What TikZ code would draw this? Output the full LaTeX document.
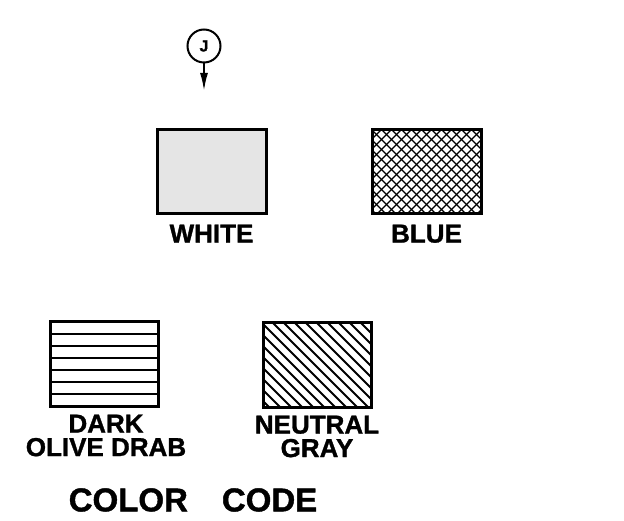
\documentclass[tikz,border=0pt]{standalone}
\usepackage{fontspec}
\setmainfont{Liberation Sans}[BoldFeatures={FakeBold=1.2}]
\usetikzlibrary{calc,positioning,arrows.meta}
\tikzset{
  swatch/.style={
    draw=black,
    line width=3pt,
    minimum width=109pt,
    minimum height=84pt,
    inner sep=0pt
  },
  hatchline/.style={line width=1.6pt},
  hatchrows/.style={path picture={
    \foreach \k in {1,...,6} {
      \draw[hatchline] ($(path picture bounding box.north west)+(-5,\k*12)$) -- ++(130,0);
    }}},
  hatchdiag/.style={path picture={
    \foreach \k in {-100,-89,...,120} {
      \draw[hatchline, line width=1.8pt] ($(path picture bounding box.north west)+(\k,0)$) -- ++(100,100);
    }}},
  hatchcross/.style={path picture={
    \foreach \k in {-110,-100,...,120} {
      \draw[hatchline, line width=1.3pt] ($(path picture bounding box.north west)+(\k,0)$) -- ++(100,100);
      \draw[hatchline, line width=1.3pt] ($(path picture bounding box.north east)+(-\k,0)$) -- ++(-100,100);
    }}},
  lbl/.style={font=\fontsize{26}{23.5}\selectfont\bfseries, inner sep=0pt, align=center},
  ttl/.style={font=\fontsize{33}{33}\selectfont\bfseries, inner sep=0pt},
}

\begin{document}
\begin{tikzpicture}[x=1pt,y=-1pt]
  \useasboundingbox[fill=white] (0,0) rectangle (624,521);
  % swatches
  \node[swatch, fill=black!10] (white) at (211.5,172) {};
  \node[swatch, hatchcross] (blue) at (426.5,172) {};
  \node[swatch, minimum width=108pt, hatchrows] (olive) at (104,364) {};
  \node[swatch, minimum width=108pt, hatchdiag] (gray) at (317,365) {};
  % names
  \node[lbl, below=7pt of olive, xshift=2pt] (olivelbl) {DARK\\OLIVE DRAB};
  \node[lbl, below=7pt of gray] (graylbl) {NEUTRAL\\GRAY};
  \node[lbl, below=9pt of white] (whitelbl) {WHITE};
  \node[lbl, below=9pt of blue] (bluelbl) {BLUE};
  \node[ttl] (title) at (193,500) {COLOR\hspace{34pt}CODE};
  % callout J
  \node[circle, draw, line width=2pt, minimum size=33pt, inner sep=0pt,
        font=\fontsize{16}{16}\selectfont\bfseries] (jmark) at (204,46) {J};
  \coordinate (jtip) at (204,91);
  \draw[line width=2pt, -{Latex[length=18pt,width=8pt]}] (jmark) -- (jtip);
\end{tikzpicture}
\end{document}
